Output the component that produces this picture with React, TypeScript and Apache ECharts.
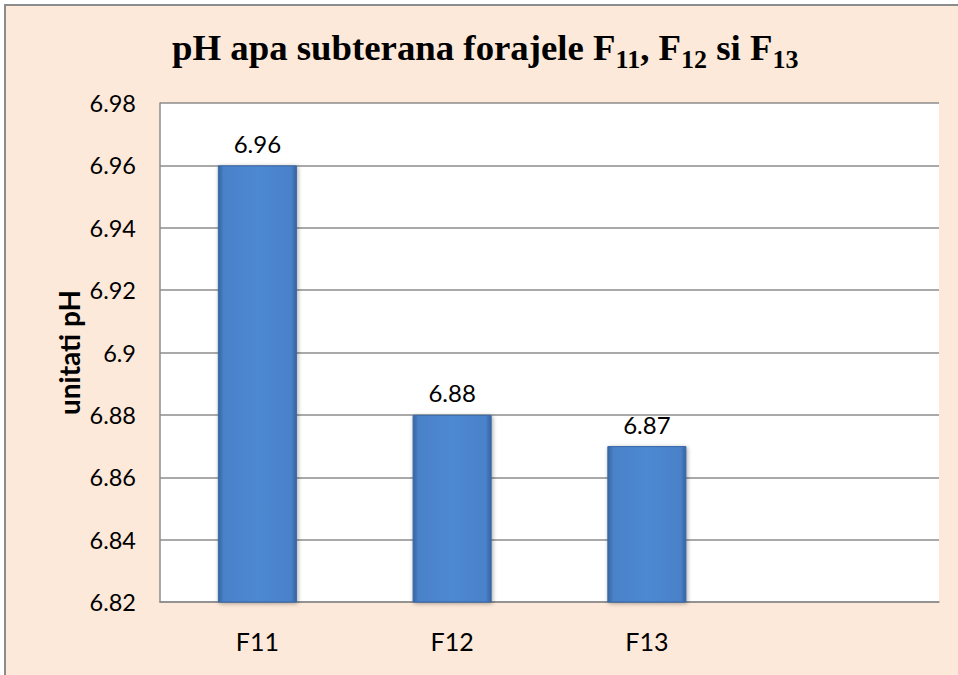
import React, { useEffect, useRef } from "react";
import * as echarts from "echarts";

const categories = ["F11", "F12", "F13", ""];
const phValues: (number | string)[] = [6.96, 6.88, 6.87, "-"];
const yMin = 6.82;
const yMax = 6.98;
const yStep = 0.02;
const titleParts = [
  ["t", "pH apa subterana forajele F"],
  ["s", "11"],
  ["t", ", F"],
  ["s", "12"],
  ["t", " si F"],
  ["s", "13"],
];
const yAxisTitle = "unitati pH";

export default function App() {
  const ref = useRef<HTMLDivElement>(null);
  useEffect(() => {
    if (!ref.current) return;
    const chart = echarts.init(ref.current, undefined, { renderer: "svg" });
    const font = "Lato, 'Open Sans', sans-serif";
    const serif = "'Liberation Serif', 'Times New Roman', serif";
    chart.setOption({
      animation: false,
      backgroundColor: "transparent",
      title: {
        text: titleParts.map(([k, v]) => `{${k}|${v}}`).join(""),
        left: 172,
        top: 29,
        padding: 0,
        textStyle: {
          rich: {
            t: {
              fontFamily: serif,
              fontWeight: "bold",
              fontSize: 36.8,
              lineHeight: 36,
              color: "#000",
              verticalAlign: "top",
            },
            s: {
              fontFamily: serif,
              fontWeight: "bold",
              fontSize: 26,
              lineHeight: 26,
              color: "#000",
              verticalAlign: "top",
              padding: [17, 0, 0, 0],
            },
          },
        },
      },
      grid: {
        left: 160,
        right: 19,
        top: 103,
        bottom: 73,
        show: true,
        backgroundColor: "#ffffff",
        borderWidth: 0,
      },
      xAxis: {
        type: "category",
        data: categories,
        axisLine: { show: true, lineStyle: { color: "#8c8c8c", width: 1.5 } },
        axisTick: { show: false },
        axisLabel: {
          fontFamily: font,
          fontSize: 25,
          color: "#000",
          margin: 26,
          interval: 0,
        },
      },
      yAxis: {
        type: "value",
        min: yMin,
        max: yMax,
        interval: yStep,
        name: yAxisTitle,
        nameLocation: "middle",
        nameGap: 77,
        nameMoveOverlap: false,
        nameTextStyle: {
          fontFamily: font,
          fontWeight: "bold",
          fontSize: 28,
          color: "#000",
        },
        axisLine: { show: true, lineStyle: { color: "#8c8c8c", width: 1.5 } },
        axisTick: { show: false },
        splitLine: { show: true, lineStyle: { color: "#8c8c8c", width: 1.5 } },
        axisLabel: {
          fontFamily: font,
          fontSize: 23.5,
          color: "#000",
          margin: 24,
          formatter: (v: number) => String(+v.toFixed(2)),
        },
      },
      series: [
        {
          type: "bar",
          data: phValues,
          barWidth: "40.6%",
          itemStyle: {
            color: new echarts.graphic.LinearGradient(0, 0, 1, 0, [
              { offset: 0, color: "#36649f" },
              { offset: 0.07, color: "#4a82c9" },
              { offset: 0.5, color: "#4d88d2" },
              { offset: 0.93, color: "#4a82c9" },
              { offset: 1, color: "#36649f" },
            ]),
            borderColor: "#3a69a8",
            borderWidth: 1,
            shadowColor: "rgba(0,0,0,0.35)",
            shadowBlur: 4,
            shadowOffsetX: 1,
            shadowOffsetY: 1,
          },
          label: {
            show: true,
            position: "top",
            distance: 10,
            fontFamily: font,
            fontSize: 24,
            color: "#000",
            formatter: (p: any) => String(p.value),
          },
        },
      ],
    });
    return () => chart.dispose();
  }, []);
  return (
    <div
      style={{
        position: "fixed",
        left: 0,
        top: 0,
        width: 958,
        height: 675,
        background: "#ffffff",
        overflow: "hidden",
      }}
    >
      <div
        style={{
          position: "absolute",
          left: 4,
          top: 4,
          width: 1000,
          height: 700,
          background: "#FDE9D9",
          border: "2px solid #8c8c8c",
        }}
      />
      <div
        ref={ref}
        style={{ position: "absolute", left: 0, top: 0, width: 958, height: 675 }}
      />
    </div>
  );
}
